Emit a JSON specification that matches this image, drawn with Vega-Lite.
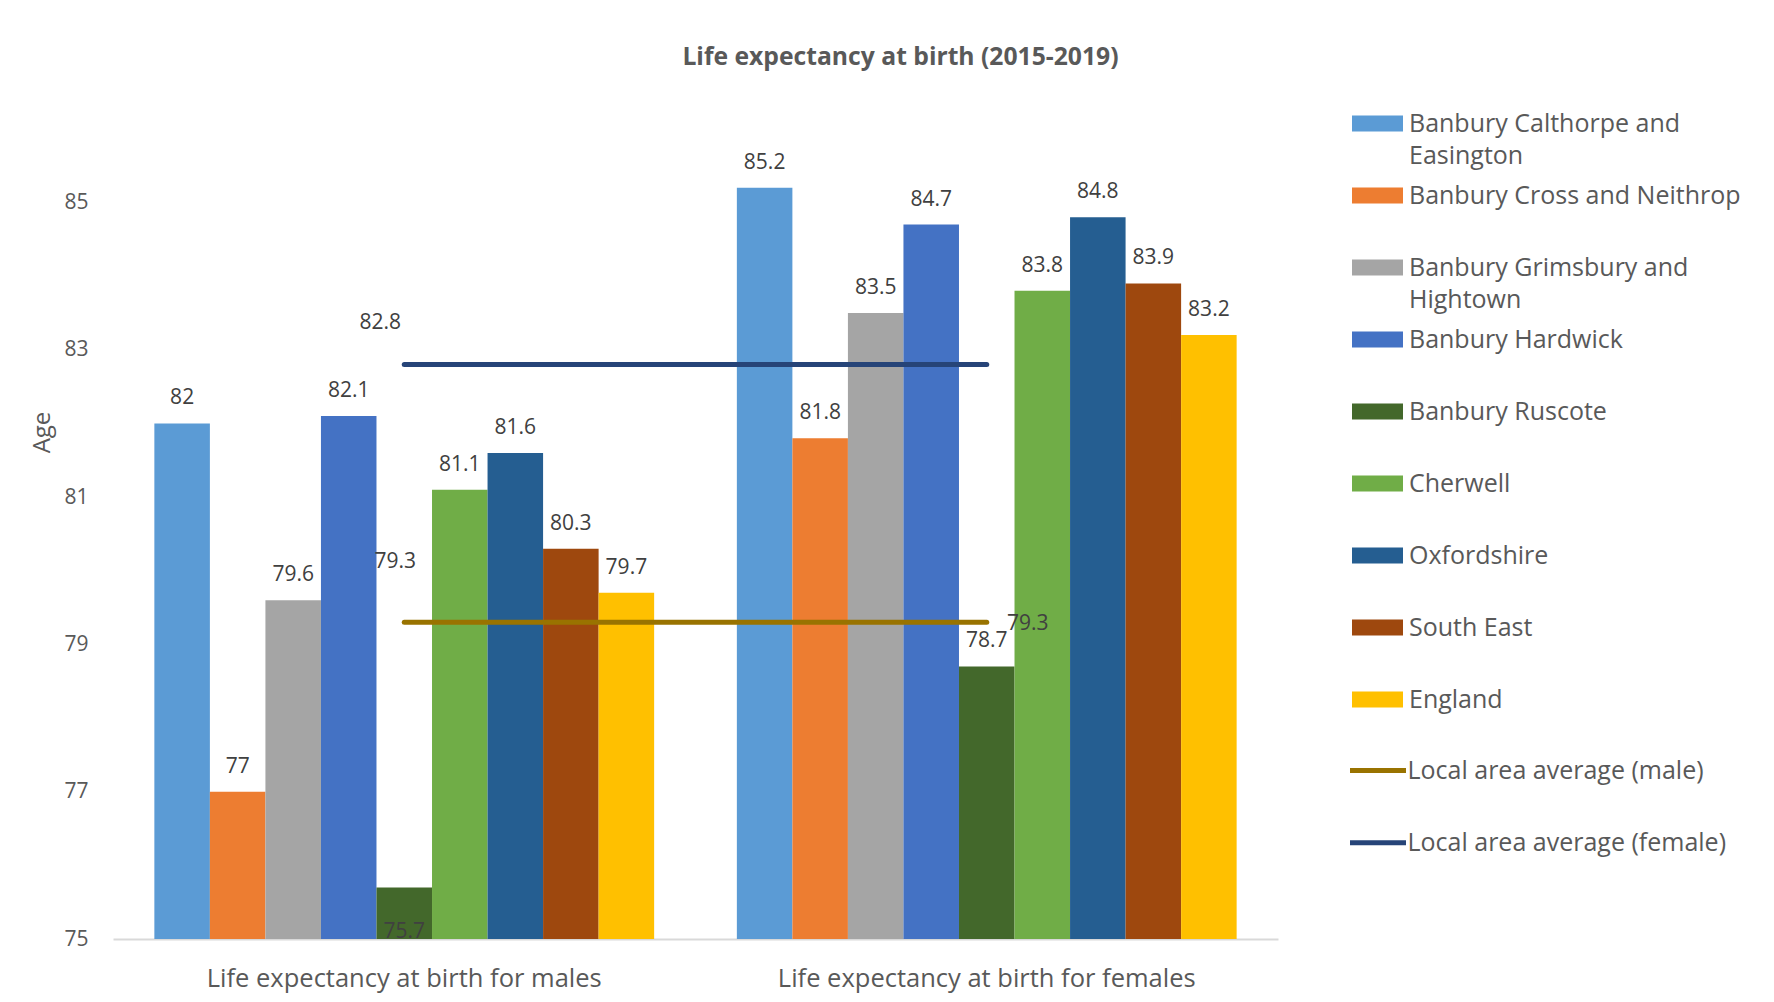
{
  "$schema": "https://vega.github.io/schema/vega-lite/v6.json",
  "autosize": "none",
  "width": 1165,
  "height": 847,
  "padding": {"left": 113, "top": 92, "right": 496, "bottom": 63},
  "background": "white",
  "title": {"text": "Life expectancy at birth (2015-2019)", "font": "Open Sans", "fontSize": 24.7, "fontWeight": "bold", "color": "#595959", "anchor": "middle", "frame": "group", "dx": 205, "offset": 22},
  "datasets": {
    "bars": [
      {"sex": "Life expectancy at birth for males", "area": "Banbury Calthorpe and Easington", "value": 82},
      {"sex": "Life expectancy at birth for males", "area": "Banbury Cross and Neithrop", "value": 77},
      {"sex": "Life expectancy at birth for males", "area": "Banbury Grimsbury and Hightown", "value": 79.6},
      {"sex": "Life expectancy at birth for males", "area": "Banbury Hardwick", "value": 82.1},
      {"sex": "Life expectancy at birth for males", "area": "Banbury Ruscote", "value": 75.7},
      {"sex": "Life expectancy at birth for males", "area": "Cherwell", "value": 81.1},
      {"sex": "Life expectancy at birth for males", "area": "Oxfordshire", "value": 81.6},
      {"sex": "Life expectancy at birth for males", "area": "South East", "value": 80.3},
      {"sex": "Life expectancy at birth for males", "area": "England", "value": 79.7},
      {"sex": "Life expectancy at birth for females", "area": "Banbury Calthorpe and Easington", "value": 85.2},
      {"sex": "Life expectancy at birth for females", "area": "Banbury Cross and Neithrop", "value": 81.8},
      {"sex": "Life expectancy at birth for females", "area": "Banbury Grimsbury and Hightown", "value": 83.5},
      {"sex": "Life expectancy at birth for females", "area": "Banbury Hardwick", "value": 84.7},
      {"sex": "Life expectancy at birth for females", "area": "Banbury Ruscote", "value": 78.7},
      {"sex": "Life expectancy at birth for females", "area": "Cherwell", "value": 83.8},
      {"sex": "Life expectancy at birth for females", "area": "Oxfordshire", "value": 84.8},
      {"sex": "Life expectancy at birth for females", "area": "South East", "value": 83.9},
      {"sex": "Life expectancy at birth for females", "area": "England", "value": 83.2}
    ],
    "lines": [
      {"sex": "Life expectancy at birth for males", "series": "Local area average (male)", "value": 79.3},
      {"sex": "Life expectancy at birth for females", "series": "Local area average (male)", "value": 79.3},
      {"sex": "Life expectancy at birth for males", "series": "Local area average (female)", "value": 82.8},
      {"sex": "Life expectancy at birth for females", "series": "Local area average (female)", "value": 82.8}
    ]
  },
  "layer": [
    {
      "data": {"name": "bars"},
      "mark": {"type": "bar"},
      "encoding": {
        "x": {"field": "sex", "type": "nominal", "sort": ["Life expectancy at birth for males", "Life expectancy at birth for females"],
          "scale": {"paddingInner": 0.142, "paddingOuter": 0.071},
          "axis": {"title": null, "labelAngle": 0, "ticks": false, "domainColor": "#d9d9d9", "domainWidth": 2, "labelFont": "Open Sans", "labelFontSize": 25.5, "labelColor": "#595959", "labelPadding": 27, "labelLimit": 600}},
        "xOffset": {"field": "area", "type": "nominal", "sort": ["Banbury Calthorpe and Easington", "Banbury Cross and Neithrop", "Banbury Grimsbury and Hightown", "Banbury Hardwick", "Banbury Ruscote", "Cherwell", "Oxfordshire", "South East", "England"], "scale": {"paddingInner": 0, "paddingOuter": 0}},
        "y": {"field": "value", "type": "quantitative", "scale": {"domain": [75, 86.5], "nice": false, "zero": false},
          "axis": {"values": [75, 77, 79, 81, 83, 85], "format": "d", "grid": false, "domain": false, "ticks": false, "labelFont": "Open Sans", "labelFontSize": 21, "labelColor": "#595959", "labelPadding": 25, "title": "Age", "titleFont": "Open Sans", "titleFontSize": 24, "titleFontWeight": "normal", "titleColor": "#595959", "titlePadding": 9, "titleY": 340}},
        "y2": {"datum": 75},
        "fill": {"field": "area", "type": "nominal",
          "scale": {"domain": ["Banbury Calthorpe and Easington", "Banbury Cross and Neithrop", "Banbury Grimsbury and Hightown", "Banbury Hardwick", "Banbury Ruscote", "Cherwell", "Oxfordshire", "South East", "England"],
            "range": ["#5B9BD5", "#ED7D31", "#A5A5A5", "#4472C4", "#43682B", "#70AD47", "#255E91", "#9E480E", "#FFC000"]},
          "legend": {"title": null, "orient": "right", "offset": 68, "padding": 6, "symbolType": "M-1,-0.31H1V0.31H-1Z", "symbolSize": 2601, "symbolStrokeWidth": 0, "labelFont": "Open Sans", "labelFontSize": 25, "labelColor": "#595959", "labelLimit": 500, "labelOffset": 6, "rowPadding": 0, "gridAlign": "all",
            "labelExpr": "datum.label == 'Banbury Calthorpe and Easington' ? ['Banbury Calthorpe and', 'Easington'] : datum.label == 'Banbury Grimsbury and Hightown' ? ['Banbury Grimsbury and', 'Hightown'] : datum.label"}}
      }
    },
    {
      "data": {"name": "bars"},
      "transform": [{"filter": "datum.value >= 76"}],
      "mark": {"type": "text", "baseline": "middle", "dy": -25, "font": "Open Sans", "fontSize": 21, "color": "#404040"},
      "encoding": {
        "x": {"field": "sex", "type": "nominal", "sort": ["Life expectancy at birth for males", "Life expectancy at birth for females"]},
        "xOffset": {"field": "area", "type": "nominal", "sort": ["Banbury Calthorpe and Easington", "Banbury Cross and Neithrop", "Banbury Grimsbury and Hightown", "Banbury Hardwick", "Banbury Ruscote", "Cherwell", "Oxfordshire", "South East", "England"]},
        "y": {"field": "value", "type": "quantitative"},
        "text": {"field": "value", "type": "quantitative", "format": ".1~f"}
      }
    },
    {
      "data": {"name": "bars"},
      "transform": [{"filter": "datum.value < 76"}],
      "mark": {"type": "text", "baseline": "middle", "dy": 45, "font": "Open Sans", "fontSize": 21, "color": "#404040"},
      "encoding": {
        "x": {"field": "sex", "type": "nominal", "sort": ["Life expectancy at birth for males", "Life expectancy at birth for females"]},
        "xOffset": {"field": "area", "type": "nominal", "sort": ["Banbury Calthorpe and Easington", "Banbury Cross and Neithrop", "Banbury Grimsbury and Hightown", "Banbury Hardwick", "Banbury Ruscote", "Cherwell", "Oxfordshire", "South East", "England"]},
        "y": {"field": "value", "type": "quantitative"},
        "text": {"field": "value", "type": "quantitative", "format": ".1~f"}
      }
    },
    {
      "data": {"name": "lines"},
      "mark": {"type": "line", "strokeWidth": 5, "strokeCap": "round"},
      "encoding": {
        "x": {"field": "sex", "type": "nominal", "sort": ["Life expectancy at birth for males", "Life expectancy at birth for females"]},
        "y": {"field": "value", "type": "quantitative"},
        "stroke": {"field": "series", "type": "nominal",
          "scale": {"domain": ["Local area average (male)", "Local area average (female)"], "range": ["#997300", "#264478"]},
          "legend": {"title": null, "orient": "right", "offset": 57, "padding": 13, "symbolType": "stroke", "symbolSize": 3136, "symbolStrokeWidth": 5, "symbolOffset": -11.5, "labelFont": "Open Sans", "labelFontSize": 25, "labelColor": "#595959", "labelLimit": 500, "labelOffset": -1, "rowPadding": 28.2}}
      }
    },
    {
      "data": {"name": "lines"},
      "transform": [{"filter": "datum.series == 'Local area average (female)' && datum.sex == 'Life expectancy at birth for males'"}],
      "mark": {"type": "text", "baseline": "middle", "dx": -24, "dy": -42, "font": "Open Sans", "fontSize": 21, "color": "#404040"},
      "encoding": {
        "x": {"field": "sex", "type": "nominal", "sort": ["Life expectancy at birth for males", "Life expectancy at birth for females"]},
        "y": {"field": "value", "type": "quantitative"},
        "text": {"field": "value", "type": "quantitative", "format": ".1~f"}
      }
    },
    {
      "data": {"name": "lines"},
      "transform": [{"filter": "datum.series == 'Local area average (male)' && datum.sex == 'Life expectancy at birth for males'"}],
      "mark": {"type": "text", "baseline": "middle", "dx": -9, "dy": -60, "font": "Open Sans", "fontSize": 21, "color": "#404040"},
      "encoding": {
        "x": {"field": "sex", "type": "nominal", "sort": ["Life expectancy at birth for males", "Life expectancy at birth for females"]},
        "y": {"field": "value", "type": "quantitative"},
        "text": {"field": "value", "type": "quantitative", "format": ".1~f"}
      }
    },
    {
      "data": {"name": "lines"},
      "transform": [{"filter": "datum.series == 'Local area average (male)' && datum.sex == 'Life expectancy at birth for females'"}],
      "mark": {"type": "text", "baseline": "middle", "dx": 41, "dy": 2, "font": "Open Sans", "fontSize": 21, "color": "#404040"},
      "encoding": {
        "x": {"field": "sex", "type": "nominal", "sort": ["Life expectancy at birth for males", "Life expectancy at birth for females"]},
        "y": {"field": "value", "type": "quantitative"},
        "text": {"field": "value", "type": "quantitative", "format": ".1~f"}
      }
    }
  ],
  "config": {"view": {"stroke": null}, "font": "Open Sans", "style": {"guide-label": {"lineHeight": 32.7}}}
}
